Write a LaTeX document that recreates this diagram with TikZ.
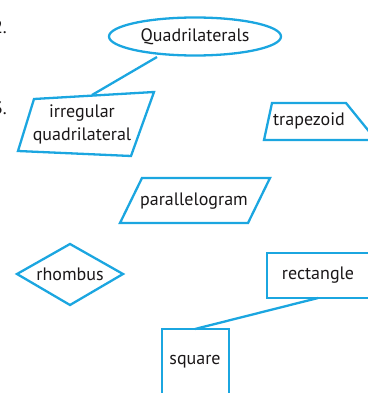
\documentclass[tikz,border=0pt]{standalone}
\usepackage{fontspec}
\setmainfont{PT Sans}
\usetikzlibrary{shapes.geometric}
\definecolor{cy}{HTML}{1BA6E0}
\definecolor{ink}{HTML}{1A1718}
\begin{document}
\begin{tikzpicture}[x=1pt,y=-1pt,
  shp/.style={draw=cy,line width=2.3pt,line join=miter},
  lbl/.style={text=ink,font=\fontsize{18}{23}\selectfont,inner sep=0pt,align=center}]
\useasboundingbox (0,0) rectangle (367,393);
% clipped margin numbers
\node[lbl,anchor=base east] (n2) at (7,34) {2.};
\node[lbl,anchor=base east] (n3) at (7,114) {3.};
% Quadrilaterals
\node[shp,ellipse,minimum width=172pt,minimum height=38pt,lbl] (quad) at (195,36.5) {Quadrilaterals};
% irregular quadrilateral
\draw[shp] (34,99) -- (154,92) -- (131,156) -- (18,151) -- cycle;
\node[lbl] (irr) at (82,124) {irregular\\quadrilateral};
% trapezoid
\draw[shp] (272,103) -- (346,103) -- (376,140) -- (264,140) -- cycle;
\node[lbl] (trap) at (309,121) {trapezoid};
% parallelogram
\draw[shp] (142,178) -- (270,178) -- (248,223) -- (120,223) -- cycle;
\node[lbl] (para) at (194,201) {parallelogram};
% rhombus
\draw[shp] (17,274) -- (70,244) -- (123,274) -- (70,305) -- cycle;
\node[lbl] (rhom) at (70,274) {rhombus};
% rectangle
\draw[shp] (267,253) rectangle (385,298);
\node[lbl] (rect) at (318,275) {rectangle};
% square
\draw[shp] (162,329) rectangle (229,405);
\node[lbl] (sq) at (195,362) {square};
% connectors
\coordinate (quadb) at (157,57);
\coordinate (irrt) at (92,95);
\coordinate (rectb) at (318,298);
\coordinate (sqt) at (195,329);
\draw[shp] (quadb) -- (irrt);
\draw[shp] (rectb) -- (sqt);
\end{tikzpicture}
\end{document}
